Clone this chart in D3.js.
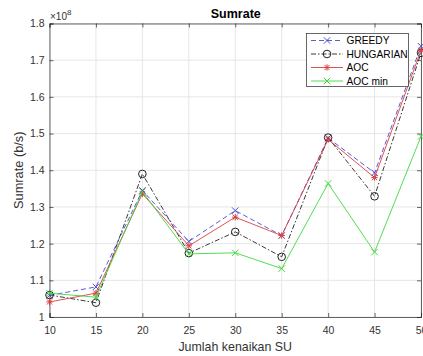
<!DOCTYPE html>
<html><head><meta charset="utf-8">
<script src="https://cdn.jsdelivr.net/npm/d3@7"></script>
<style>body{margin:0;background:#fff}svg{display:block;font-family:"Liberation Sans",Arial,sans-serif}</style>
</head><body><svg id="c" width="423" height="356"></svg>
<script>
const xValues = [10, 15, 20, 25, 30, 35, 40, 45, 50];
const greedy    = [1.059, 1.082, 1.345, 1.206, 1.290, 1.222, 1.488, 1.393, 1.738];
const hungarian = [1.060, 1.039, 1.390, 1.174, 1.232, 1.164, 1.489, 1.329, 1.720];
const aoc       = [1.041, 1.065, 1.336, 1.194, 1.272, 1.222, 1.484, 1.380, 1.727];
const aocMin    = [1.065, 1.054, 1.342, 1.172, 1.175, 1.132, 1.364, 1.177, 1.492];
const xTicks = [10, 15, 20, 25, 30, 35, 40, 45, 50];
const yTicks = [1, 1.1, 1.2, 1.3, 1.4, 1.5, 1.6, 1.7, 1.8];
const seriesNames = ["GREEDY", "HUNGARIAN", "AOC", "AOC min"];

const svg = d3.select("#c");
const L = 49.5, R = 421, T = 23.5, B = 317;
const x = d3.scaleLinear().domain([10, 50]).range([L, R]);
const y = d3.scaleLinear().domain([1, 1.8]).range([B, T]);
const tc = "#333333", gc = "#e6e6e6";

// grid
svg.append("g").selectAll("line").data(xTicks).join("line")
  .attr("x1", d => x(d)).attr("x2", d => x(d)).attr("y1", T).attr("y2", B)
  .attr("stroke", gc).attr("stroke-width", 1);
svg.append("g").selectAll("line").data(yTicks).join("line")
  .attr("x1", L).attr("x2", R).attr("y1", d => y(d)).attr("y2", d => y(d))
  .attr("stroke", gc).attr("stroke-width", 1);

// axes
const xa = svg.append("g").attr("transform", `translate(0,${B})`)
  .call(d3.axisBottom(x).tickValues(xTicks).tickSize(-4).tickPadding(10).tickFormat(d3.format("d")));
const ya = svg.append("g").attr("transform", `translate(${L},0)`)
  .call(d3.axisLeft(y).tickValues(yTicks).tickSize(-4).tickPadding(5).tickFormat(d => d === 1 ? "1" : d3.format(".1f")(d)));
const xt = svg.append("g").attr("transform", `translate(0,${T})`)
  .call(d3.axisTop(x).tickValues(xTicks).tickSize(-4).tickFormat(""));
const yr = svg.append("g").attr("transform", `translate(${R},0)`)
  .call(d3.axisRight(y).tickValues(yTicks).tickSize(-4).tickFormat(""));
[xa, ya, xt, yr].forEach(g => {
  g.selectAll("path,line").attr("stroke", "#262626").attr("stroke-width", 0.7);
  g.selectAll("text").attr("fill", tc).attr("font-size", 10.5).attr("font-family", "Liberation Sans, Arial, sans-serif");
});

// multiplier
svg.append("text").attr("x", L + 0.5).attr("y", 19.5).attr("font-size", 10).attr("fill", tc)
  .text("\u00d710").append("tspan").attr("dy", -5).attr("font-size", 8).text("8");

// title & labels
svg.append("text").attr("x", (L + R) / 2 + 0.5).attr("y", 18).attr("text-anchor", "middle")
  .attr("font-weight", "bold").attr("font-size", 12.5).attr("fill", "#000").text("Sumrate");
svg.append("text").attr("x", (L + R) / 2).attr("y", 350.5).attr("text-anchor", "middle")
  .attr("font-size", 12.4).attr("fill", tc).text("Jumlah kenaikan SU");
svg.append("text").attr("transform", `translate(22.5,${(T + B) / 2}) rotate(-90)`).attr("text-anchor", "middle")
  .attr("font-size", 12.8).attr("fill", tc).text("Sumrate (b/s)");

const series = [
  {name: seriesNames[0], vals: greedy, color: "#4a4ad0", dash: "5,3", marker: "x"},
  {name: seriesNames[1], vals: hungarian, color: "#222222", dash: "5,2,1.5,2", marker: "o"},
  {name: seriesNames[2], vals: aoc, color: "#d94040", dash: null, marker: "*"},
  {name: seriesNames[3], vals: aocMin, color: "#40d840", dash: null, marker: "x"}
];

function drawMarker(g, type, cx, cy, color) {
  const s = 3.2;
  if (type === "x") {
    g.append("path").attr("d", `M${cx - s},${cy - s}L${cx + s},${cy + s}M${cx - s},${cy + s}L${cx + s},${cy - s}`)
      .attr("stroke", color).attr("stroke-width", 1).attr("fill", "none");
  } else if (type === "o") {
    g.append("circle").attr("cx", cx).attr("cy", cy).attr("r", 3.8)
      .attr("stroke", color).attr("stroke-width", 1).attr("fill", "none");
  } else {
    const a = 2.6;
    g.append("path").attr("d", `M${cx - s},${cy}L${cx + s},${cy}M${cx},${cy - s}L${cx},${cy + s}M${cx - a},${cy - a}L${cx + a},${cy + a}M${cx - a},${cy + a}L${cx + a},${cy - a}`)
      .attr("stroke", color).attr("stroke-width", 1).attr("fill", "none");
  }
}

const line = d3.line().x(d => x(d[0])).y(d => y(d[1]));
const plot = svg.append("g");
series.forEach(s => {
  const pts = xValues.map((xv, i) => [xv, s.vals[i]]);
  plot.append("path").datum(pts).attr("d", line).attr("fill", "none")
    .attr("stroke", s.color).attr("stroke-width", 0.9).attr("stroke-dasharray", s.dash);
  const mg = plot.append("g");
  pts.forEach(p => drawMarker(mg, s.marker, x(p[0]), y(p[1]), s.color));
});

// legend
const lg = svg.append("g");
lg.append("rect").attr("x", 306.5).attr("y", 33.5).attr("width", 102).attr("height", 53)
  .attr("fill", "#fff").attr("stroke", "#262626").attr("stroke-width", 0.7);
series.forEach((s, i) => {
  const ly = 40.5 + i * 13.5;
  lg.append("line").attr("x1", 311).attr("x2", 343).attr("y1", ly).attr("y2", ly)
    .attr("stroke", s.color).attr("stroke-width", 0.9).attr("stroke-dasharray", s.dash);
  drawMarker(lg, s.marker, 327, ly, s.color);
  lg.append("text").attr("x", 346.5).attr("y", ly + 3.8).attr("font-size", 10.2).attr("fill", "#000").text(s.name);
});
</script></body></html>
